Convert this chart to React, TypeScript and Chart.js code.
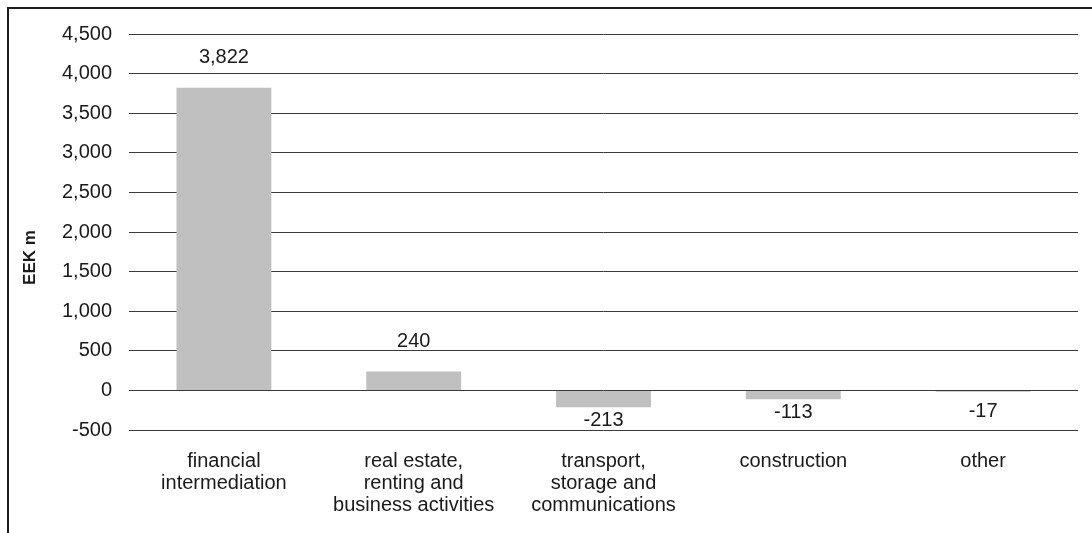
import React, { useEffect, useRef } from "react";
import { Chart, registerables } from "chart.js";

Chart.register(...registerables);

// Net FDI flows by sector, EEK m
const categories: string[][] = [
  ["financial", "intermediation"],
  ["real estate,", "renting and", "business activities"],
  ["transport,", "storage and", "communications"],
  ["construction"],
  ["other"],
];
const values: number[] = [3822, 240, -213, -113, -17];
const yMin = -500;
const yMax = 4500;
const yStep = 500;
const yTitle = "EEK m";

const FONT = "'Liberation Sans', Arial, Helvetica, sans-serif";
const fmt = (v: number) => v.toLocaleString("en-US");

// Writes each bar's value beyond the end of the bar, plus the rotated y-axis title
const valueLabels = {
  id: "valueLabels",
  afterDatasetsDraw(chart: any) {
    const { ctx } = chart;
    const meta = chart.getDatasetMeta(0);
    const zeroY = chart.scales.y.getPixelForValue(0);
    ctx.save();
    ctx.font = `20px ${FONT}`;
    ctx.fillStyle = "#1a1a1a";
    ctx.textAlign = "center";
    ctx.textBaseline = "middle";
    meta.data.forEach((bar: any, i: number) => {
      const v = values[i];
      let y: number;
      if (v >= 0) {
        y = bar.y - 30;
      } else {
        y = Math.max(bar.y + 13, zeroY + 21);
      }
      ctx.fillText(fmt(v), bar.x, y);
    });

    // axis title, centred on the canvas height
    ctx.translate(30, chart.height / 2 - 9);
    ctx.rotate(-Math.PI / 2);
    ctx.font = `bold 17px ${FONT}`;
    ctx.fillText(yTitle, 0, 0);
    ctx.restore();
  },
};

export default function App() {
  const ref = useRef<HTMLCanvasElement | null>(null);

  useEffect(() => {
    if (!ref.current) return;
    const chart = new Chart(ref.current, {
      type: "bar",
      data: {
        labels: categories,
        datasets: [
          {
            data: values,
            backgroundColor: "#c0c0c0",
            borderWidth: 0,
            categoryPercentage: 1,
            barPercentage: 0.5,
          },
        ],
      },
      options: {
        responsive: false,
        animation: false,
        devicePixelRatio: 1,
        layout: { padding: { left: 0, right: 14, top: 34, bottom: 0 } },
        plugins: {
          legend: { display: false },
          tooltip: { enabled: false },
        },
        scales: {
          x: {
            grid: { display: false, drawTicks: false },
            border: { display: false },
            ticks: {
              color: "#1a1a1a",
              font: { family: FONT, size: 20, lineHeight: 1.1 },
              padding: 20,
              maxRotation: 0,
              autoSkip: false,
            },
            afterFit: (s: any) => {
              s.height = 103;
            },
          },
          y: {
            min: yMin,
            max: yMax,
            grid: { color: "#3a3a3a", lineWidth: 1, drawTicks: false },
            border: { display: false },
            ticks: {
              stepSize: yStep,
              color: "#1a1a1a",
              font: { family: FONT, size: 20 },
              padding: 17,
              callback: (v: any) => fmt(Number(v)),
            },
            afterFit: (s: any) => {
              s.width = 129;
            },
          },
        },
      },
      plugins: [valueLabels],
    });
    return () => chart.destroy();
  }, []);

  return (
    <div style={{ position: "absolute", left: 0, top: 0, width: 1092, height: 533, overflow: "hidden", background: "#fff" }}>
      <canvas ref={ref} width={1092} height={533} style={{ position: "absolute", left: 0, top: 0 }} />
      <div
        style={{
          position: "absolute",
          left: 7,
          top: 7,
          width: 1200,
          height: 700,
          borderLeft: "2px solid #1e1e1e",
          borderTop: "2px solid #1e1e1e",
          pointerEvents: "none",
        }}
      />
    </div>
  );
}
